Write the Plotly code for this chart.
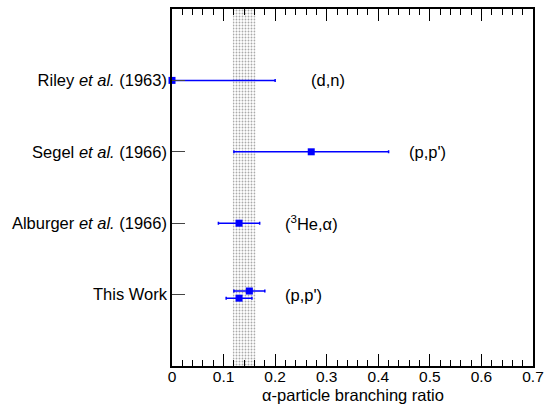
import plotly.graph_objects as go

# Data
labels = ["Riley <i>et al.</i> (1963)", "Segel <i>et al.</i> (1966)",
          "Alburger <i>et al.</i> (1966)", "This Work"]
label_pos = [4, 3, 2, 1]
reactions = ["(d,n)", "(p,p')", "(<sup>3</sup>He,α)", "(p,p')"]
reaction_x = [0.265, 0.455, 0.215, 0.215]

x_vals = [0.0, 0.27, 0.13, 0.15, 0.13]
y_vals = [4, 3, 2, 1.05, 0.95]
err_plus = [0.2, 0.15, 0.04, 0.03, 0.025]
err_minus = [0.0, 0.15, 0.04, 0.03, 0.025]

x_ticks = [0, 0.1, 0.2, 0.3, 0.4, 0.5, 0.6, 0.7]
x_ticktext = ["0", "0.1", "0.2", "0.3", "0.4", "0.5", "0.6", "0.7"]
x_title = "α-particle branching ratio"

band_lo, band_hi = 0.118, 0.162

fig = go.Figure()

# shaded band
fig.add_trace(go.Scatter(
    x=[band_lo, band_hi, band_hi, band_lo, band_lo],
    y=[0, 0, 5, 5, 0],
    fill="toself", mode="lines", line=dict(width=0, color="rgba(0,0,0,0)"),
    fillcolor="rgba(0,0,0,0)",
    fillpattern=dict(shape=".", size=3, solidity=0.3, fgcolor="#555", bgcolor="white"),
    hoverinfo="skip", showlegend=False,
))

fig.add_trace(go.Scatter(
    x=x_vals, y=y_vals, mode="markers",
    marker=dict(symbol="square", size=7, color="#0000ff"),
    error_x=dict(type="data", symmetric=False, array=err_plus, arrayminus=err_minus,
                 color="#0000ff", thickness=1.5, width=1.5),
    showlegend=False, cliponaxis=False,
))

for rx, ry, rt in zip(reaction_x, label_pos, reactions):
    fig.add_annotation(x=rx, y=ry, text=rt, showarrow=False, xanchor="left",
                       font=dict(size=16.5, color="black"))

fig.add_annotation(x=0.5, y=0, xref="paper", yref="paper", text=x_title,
                   showarrow=False, xanchor="center", yanchor="middle", yshift=-29,
                   font=dict(size=16.5, color="black"))

fig.update_layout(
    width=545, height=405,
    margin=dict(l=172, r=12, t=9, b=39),
    plot_bgcolor="white", paper_bgcolor="white",
    font=dict(family="Liberation Sans, Arial, sans-serif", size=16.5, color="black"),
    xaxis=dict(range=[0, 0.7], tickvals=x_ticks, ticktext=x_ticktext, tickangle=0,
               ticks="inside", ticklen=12, tickwidth=1, tickcolor="black",
               minor=dict(dtick=0.02, tick0=0, ticks="inside", ticklen=6, tickcolor="black"),
               showline=True, linecolor="black", linewidth=1.5, mirror="ticks",
               showgrid=False, zeroline=False, automargin=False,
               tickfont=dict(size=15.5), ticklabelstandoff=-4),
    yaxis=dict(range=[0, 5], tickvals=label_pos, ticktext=labels, ticks="inside",
               ticklen=13, tickcolor="#444", showline=True, linecolor="black", linewidth=1.5,
               mirror=True, showgrid=False, zeroline=False, automargin=False,
               tickfont=dict(size=16.5)),
)

fig.write_html("out.html")
